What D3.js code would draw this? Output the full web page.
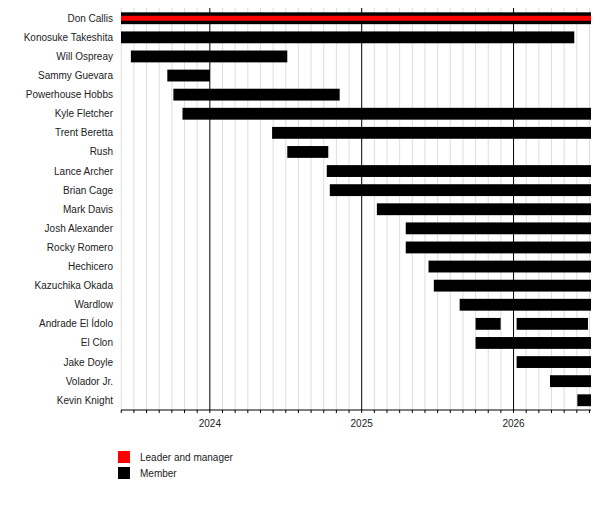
<!DOCTYPE html>
<html><head><meta charset="utf-8">
<script src="https://cdn.jsdelivr.net/npm/d3@7"></script>
<style>body{margin:0;background:#fff}text{font-family:"Liberation Sans",Arial,sans-serif;font-size:10px;fill:#222}</style>
</head><body>
<script>
// names, top to bottom
var names = ["Don Callis","Konosuke Takeshita","Will Ospreay","Sammy Guevara","Powerhouse Hobbs","Kyle Fletcher","Trent Beretta","Rush","Lance Archer","Brian Cage","Mark Davis","Josh Alexander","Rocky Romero","Hechicero","Kazuchika Okada","Wardlow","Andrade El Ídolo","El Clon","Jake Doyle","Volador Jr.","Kevin Knight"];
// spans as decimal years [name, start, end]
var spans = [
  ["Don Callis",2023.415,2026.51],
  ["Konosuke Takeshita",2023.415,2026.40],
  ["Will Ospreay",2023.48,2024.51],
  ["Sammy Guevara",2023.72,2024.0],
  ["Powerhouse Hobbs",2023.76,2024.855],
  ["Kyle Fletcher",2023.82,2026.51],
  ["Trent Beretta",2024.41,2026.51],
  ["Rush",2024.51,2024.78],
  ["Lance Archer",2024.77,2026.51],
  ["Brian Cage",2024.79,2026.51],
  ["Mark Davis",2025.10,2026.51],
  ["Josh Alexander",2025.29,2026.51],
  ["Rocky Romero",2025.29,2026.51],
  ["Hechicero",2025.44,2026.51],
  ["Kazuchika Okada",2025.475,2026.51],
  ["Wardlow",2025.645,2026.51],
  ["Andrade El Ídolo",2025.75,2025.915],
  ["Andrade El Ídolo",2026.02,2026.49],
  ["El Clon",2025.75,2026.51],
  ["Jake Doyle",2026.02,2026.51],
  ["Volador Jr.",2026.24,2026.51],
  ["Kevin Knight",2026.42,2026.51]
];
var leaderSpan = [["Don Callis",2023.415,2026.51]];
var years = [2024,2025,2026];
var legendItems = [["Leader and manager","#ff0000"],["Member","#000000"]];

var W=600,H=508, x0=121, x1=591, plotTop=8, plotBottom=410;
var svg=d3.select("body").append("svg").attr("width",W).attr("height",H);
var x=d3.scaleLinear().domain([2023.415,2026.51]).range([x0,x1]);
var y=d3.scaleBand().domain(names).range([plotTop+0.5,plotBottom]).paddingInner(0.38).paddingOuter(0.2);

// monthly grid
var months=d3.range(Math.ceil(2023.415*12),Math.floor(2026.51*12)+1).map(function(m){return m/12;});
svg.append("g").selectAll("line").data(months.filter(function(m){return Math.abs(m-Math.round(m))>1e-6;}))
  .enter().append("line").attr("x1",function(d){return x(d);}).attr("x2",function(d){return x(d);})
  .attr("y1",plotTop).attr("y2",plotBottom).attr("stroke","#ddd").attr("stroke-width",1);
svg.append("g").selectAll("line").data(years).enter().append("line")
  .attr("x1",function(d){return x(d);}).attr("x2",function(d){return x(d);})
  .attr("y1",plotTop).attr("y2",plotBottom).attr("stroke","#000");

// bars
svg.append("g").selectAll("rect").data(spans).enter().append("rect")
  .attr("x",function(d){return x(d[1]);}).attr("width",function(d){return x(d[2])-x(d[1]);})
  .attr("y",function(d){return y(d[0]);}).attr("height",y.bandwidth()).attr("fill","#000");
svg.append("g").selectAll("rect").data(leaderSpan).enter().append("rect")
  .attr("x",function(d){return x(d[1]);}).attr("width",function(d){return x(d[2])-x(d[1]);})
  .attr("y",function(d){return y(d[0])+y.bandwidth()/2-2.5;}).attr("height",5).attr("fill","#ff0000");

// labels
svg.append("g").selectAll("text").data(names).enter().append("text")
  .attr("x",113).attr("y",function(d){return y(d)+y.bandwidth()/2;}).attr("dy","0.35em")
  .attr("text-anchor","end").text(function(d){return d;});

// axis
var ax=svg.append("g").attr("transform","translate(0,"+plotBottom+")");
ax.append("line").attr("x1",x0).attr("x2",x1).attr("stroke","#000");
ax.selectAll("line.m").data(months).enter().append("line").attr("class","m")
  .attr("x1",function(d){return x(d);}).attr("x2",function(d){return x(d);})
  .attr("y1",0).attr("y2",3).attr("stroke","#000");
ax.selectAll("text").data(years).enter().append("text").attr("x",function(d){return x(d);})
  .attr("y",17).attr("text-anchor","middle").text(function(d){return d;});

// legend
var lg=svg.append("g").selectAll("g").data(legendItems).enter().append("g")
  .attr("transform",function(d,i){return "translate(118,"+(451+i*16)+")";});
lg.append("rect").attr("width",12).attr("height",12).attr("fill",function(d){return d[1];});
lg.append("text").attr("x",22).attr("y",6).attr("dy","0.35em").text(function(d){return d[0];});
</script>
</body></html>
